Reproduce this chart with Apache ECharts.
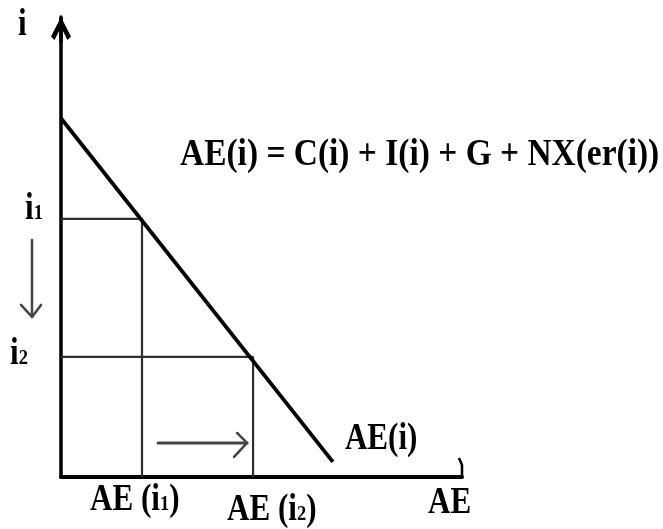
<!DOCTYPE html>
<html>
<head>
<meta charset="utf-8">
<script src="https://cdn.jsdelivr.net/npm/echarts@6/dist/echarts.min.js"></script>
<style>
  html, body { margin: 0; padding: 0; background: #fff; }
  #chart { width: 663px; height: 529px; }
</style>
</head>
<body>
<div id="chart"></div>
<script>
// Aggregate expenditure schedule AE(i): end points (spending, interest rate)
const curveSpending = [0, 67.8];
const curveRate = [78, 3.3];
// Two interest rate levels and the spending they induce
const rateLevels = [56.1, 26.1];
const spendingLevels = [20.2, 47.9];
const rateSubscripts = ['1', '2'];
// Horizontal arrow showing the rise in spending
const shiftArrowSpending = [24.2, 46.4];
const shiftArrowRate = 7.4;

const SERIF = '"Liberation Serif", "Times New Roman", serif';
const chart = echarts.init(document.getElementById('chart'), null, { renderer: 'canvas' });

// open arrow head with a stem, pointing up in its own frame
const arrowHead = 'path://M10,0 L20,19.5 L16.5,23 L10,10 L3.5,23 L0,19.5 Z M8.2,1 L11.8,1 L11.8,26 L8.2,26 Z';

const guideSeries = rateLevels.map((r, k) => ({
  type: 'line',
  data: [[0, r], [spendingLevels[k], r], [spendingLevels[k], 0]],
  symbol: 'none',
  lineStyle: { color: '#2e2e2e', width: 2.2 },
  z: 2,
  silent: true
}));

chart.setOption({
  animation: false,
  backgroundColor: '#fff',
  grid: { left: 61, right: 201, top: 17, bottom: 52 },
  xAxis: {
    type: 'value', min: 0, max: 100,
    axisLine: { show: true, lineStyle: { color: '#000', width: 4 } },
    axisTick: { show: false }, axisLabel: { show: false }, splitLine: { show: false }
  },
  yAxis: {
    type: 'value', min: 0, max: 100,
    axisLine: {
      show: true,
      symbol: ['none', arrowHead],
      symbolSize: [23, 26],
      symbolOffset: [0, -13],
      lineStyle: { color: '#000', width: 3.5 }
    },
    axisTick: { show: false }, axisLabel: { show: false }, splitLine: { show: false }
  },
  series: guideSeries.concat([{
    type: 'line',
    data: curveSpending.map((x, k) => [x, curveRate[k]]),
    symbol: 'none',
    lineStyle: { color: '#000', width: 3.8 },
    z: 3,
    silent: true
  }])
});

const toPx = (pt) => chart.convertToPixel({ gridIndex: 0 }, pt);

const rich = {
  m: { fontFamily: SERIF, fontWeight: 'bold', fontSize: 37, lineHeight: 37, verticalAlign: 'bottom', color: '#000' },
  s: { fontFamily: SERIF, fontWeight: 'bold', fontSize: 22, lineHeight: 22, verticalAlign: 'bottom', color: '#000', padding: [0, 0, 3, 0] }
};

function label(pos, text, scale) {
  return {
    type: 'text', x: pos[0], y: pos[1], scaleX: scale || 0.84, z: 10, silent: true,
    style: {
      text: text, rich: rich, fill: '#000',
      font: 'bold 37px ' + SERIF,
      align: 'left', verticalAlign: 'middle',
      textAlign: 'left', textVerticalAlign: 'middle'
    }
  };
}

const origin = toPx([0, 0]);
const yTop = toPx([0, 100]);
const xEnd = toPx([100, 0]);
const curveEnd = toPx([curveSpending[1], curveRate[1]]);
const rPx = rateLevels.map(r => toPx([0, r]));
const sPx = spendingLevels.map(s => toPx([s, 0]));

const graphics = [];
graphics.push(label([yTop[0] - 43, yTop[1] + 8], '{m|i}'));
graphics.push(label([rPx[0][0] - 36, rPx[0][1] - 10], '{m|i}{s|' + rateSubscripts[0] + '}'));
graphics.push(label([rPx[1][0] - 51, rPx[1][1] - 3], '{m|i}{s|' + rateSubscripts[1] + '}'));
graphics.push(label([sPx[0][0] - 52, sPx[0][1] + 23], '{m|AE (i}{s|' + rateSubscripts[0] + '}{m|)}'));
graphics.push(label([sPx[1][0] - 26, sPx[1][1] + 33], '{m|AE (i}{s|' + rateSubscripts[1] + '}{m|)}'));
graphics.push(label([curveEnd[0] + 12, curveEnd[1] - 22], '{m|AE(i)}'));
graphics.push(label([xEnd[0] - 34, xEnd[1] + 26], '{m|AE}'));
graphics.push({
  type: 'text', x: 180, y: 155, scaleX: 0.88, z: 10, silent: true,
  style: {
    text: 'AE(i) = C(i) + I(i) + G + NX(er(i))', fill: '#000',
    font: 'bold 38px ' + SERIF,
    align: 'left', verticalAlign: 'middle', textAlign: 'left', textVerticalAlign: 'middle'
  }
});

// arrow from i1 down to i2, left of the vertical axis
const ax = origin[0] - 29;
const downTop = rPx[0][1] + 21;
const downTip = rPx[1][1] - 40;
const arrowStyle = { stroke: '#444', lineWidth: 2.5, fill: null, lineCap: 'round', lineJoin: 'round' };
graphics.push({ type: 'polyline', z: 5, silent: true, shape: { points: [[ax, downTop], [ax, downTip]] }, style: arrowStyle });
graphics.push({ type: 'polyline', z: 5, silent: true, shape: { points: [[ax - 11, downTip - 12], [ax, downTip], [ax + 9, downTip - 12]] }, style: arrowStyle });

// arrow from AE(i1) to AE(i2)
const rs = toPx([shiftArrowSpending[0], shiftArrowRate]);
const re = toPx([shiftArrowSpending[1], shiftArrowRate]);
graphics.push({ type: 'polyline', z: 5, silent: true, shape: { points: [rs, re] }, style: Object.assign({}, arrowStyle, { lineWidth: 3 }) });
graphics.push({ type: 'polyline', z: 5, silent: true, shape: { points: [[re[0] - 10, re[1] - 10], re, [re[0] - 13, re[1] + 14]] }, style: arrowStyle });

// small stub at the end of the horizontal axis
graphics.push({ type: 'polyline', z: 5, silent: true, shape: { points: [[xEnd[0] - 3, xEnd[1] - 19], [xEnd[0], xEnd[1] - 12], [xEnd[0], xEnd[1]]] }, style: { stroke: '#000', lineWidth: 2.5, fill: null } });

chart.setOption({ graphic: graphics });
</script>
</body>
</html>
